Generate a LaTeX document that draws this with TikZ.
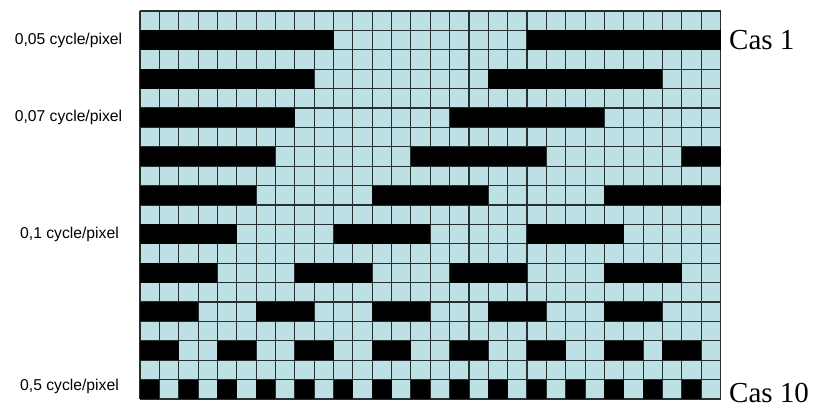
\documentclass[tikz,border=0pt]{standalone}
\usepackage{fontspec}
\setmainfont{Liberation Serif}
\newfontfamily\labelfont{Liberation Sans}
\definecolor{cellcyan}{HTML}{BCE0E3}
\definecolor{gridcol}{HTML}{26302F}
\begin{document}
\begin{tikzpicture}[x=1pt,y=-1pt,
  lab/.style={inner sep=0pt,font=\labelfont\fontsize{15.7}{18}\selectfont},
  cas/.style={inner sep=0pt,font=\fontsize{29}{34}\selectfont},
  gridline/.style={draw=gridcol,line width=1.1pt},
  bar/.style={fill=black}]
\useasboundingbox (0,0) rectangle (831,410);
\begin{scope}[shift={(140,11)},x=19.35pt,y=-19.4pt]
  \fill[cellcyan] (0,0) rectangle (30,20);
  \foreach \i in {0,...,30} \draw[gridline] (\i,0) -- (\i,20);
  \foreach \j in {0,...,20} \draw[gridline] (0,\j) -- (30,\j);
  % row : list of black segments a/b (columns a..b-1)
  \foreach \r/\segs in {
    1/{0/10,20/30},
    3/{0/9,18/27},
    5/{0/8,16/24},
    7/{0/7,14/21,28/30},
    9/{0/6,12/18,24/30},
    11/{0/5,10/15,20/25},
    13/{0/4,8/12,16/20,24/28},
    15/{0/3,6/9,12/15,18/21,24/27},
    17/{0/2,4/6,8/10,12/14,16/18,20/22,24/26,27/29},
    19/{0/1,2/3,4/5,6/7,8/9,10/11,12/13,14/15,16/17,18/19,20/21,22/23,24/25,26/27,28/29}}
  {
    \foreach \a/\b in \segs
      \fill[bar] (\a,\r) rectangle (\b,\r+1);
  }
\end{scope}
\node[lab] (l1) at (68.5,40.5) {0,05 cycle/pixel};
\node[lab] (l2) at (68.5,117) {0,07 cycle/pixel};
\node[lab] (l3) at (69.5,234) {0,1 cycle/pixel};
\node[lab] (l4) at (69.5,386) {0,5 cycle/pixel};
\node[cas,anchor=west] (c1) at (729,40) {Cas 1};
\node[cas,anchor=base west] (c10) at (729,402) {Cas 10};
\end{tikzpicture}
\end{document}
